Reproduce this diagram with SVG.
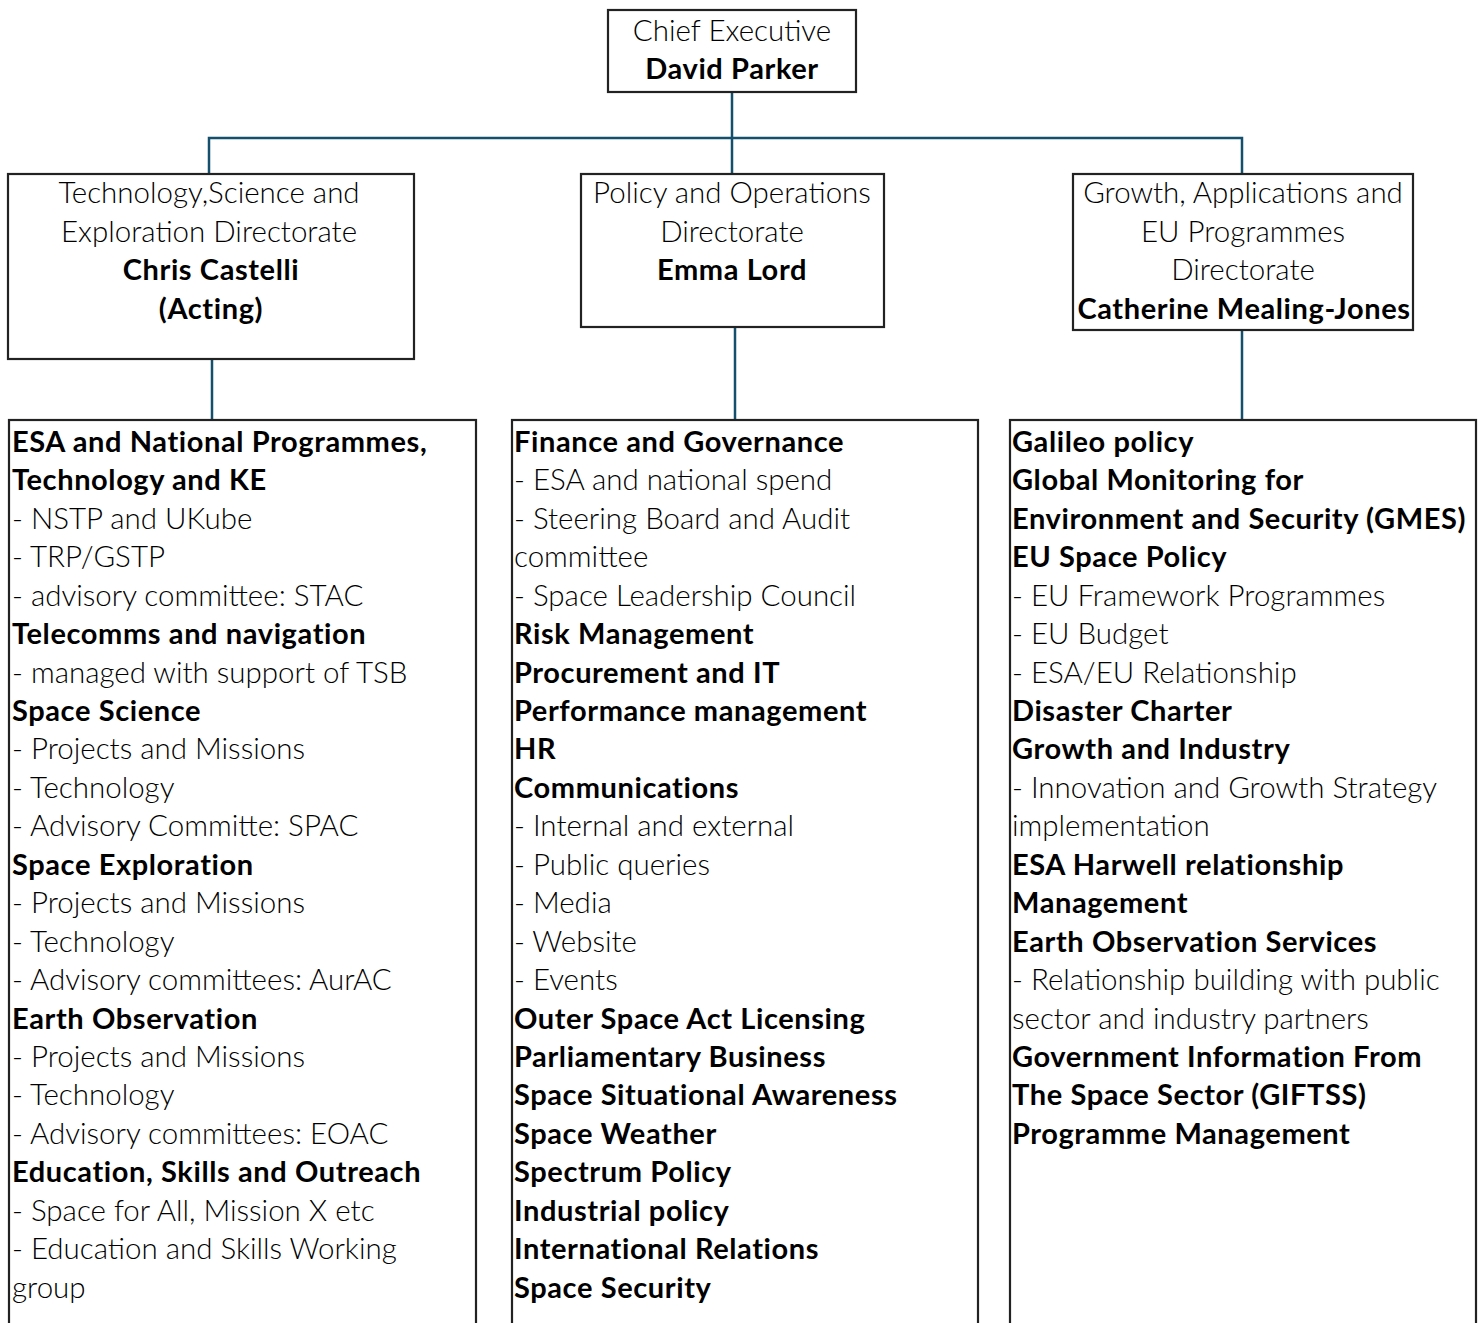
<svg xmlns="http://www.w3.org/2000/svg" width="1482" height="1323" viewBox="0 0 1482 1323">
<style>
text{font-family:Lato,"Open Sans","Liberation Sans",sans-serif;fill:#000}
.r{font-weight:300;font-size:29.5px}
.b{font-weight:700;font-size:29px;letter-spacing:0.6px}
.c{text-anchor:middle}
.box{fill:#fff;stroke:#222;stroke-width:2.2}
.con{stroke:#14506e;stroke-width:2.5;fill:none}
</style>
<rect width="1482" height="1323" fill="#fff"/>
<g id="connectors">
<path class="con" d="M732,92V138M209,174V138H1242V174M732,138V174"/>
<path class="con" d="M212,359V420M735,327V420M1242,330V420"/>
</g>
<g id="chief">
<rect class="box" x="608" y="10" width="248" height="82"/>
<text class="r c" x="732" y="41">Chief Executive</text>
<text class="b c" x="732" y="79">David Parker</text>
</g>
<g id="tse">
<rect class="box" x="8" y="174" width="406" height="185"/>
<text class="r c" x="209" y="203">Technology,Science and</text>
<text class="r c" x="209" y="242">Exploration Directorate</text>
<text class="b c" x="211" y="280">Chris Castelli</text>
<text class="b c" x="211" y="319">(Acting)</text>
</g>
<g id="po">
<rect class="box" x="581" y="174" width="303" height="153"/>
<text class="r c" x="732" y="203">Policy and Operations</text>
<text class="r c" x="732" y="242">Directorate</text>
<text class="b c" x="732" y="280">Emma Lord</text>
</g>
<g id="gae">
<rect class="box" x="1073" y="174" width="340" height="156"/>
<text class="r c" x="1243" y="203">Growth, Applications and</text>
<text class="r c" x="1243" y="242">EU Programmes</text>
<text class="r c" x="1243" y="280">Directorate</text>
<text class="b c" x="1244" y="319">Catherine Mealing-Jones</text>
</g>
<g id="tse-list">
<rect class="box" x="9" y="420" width="467" height="920"/>
<text class="b" x="12" y="452">ESA and National Programmes,</text>
<text class="b" x="12" y="490.4">Technology and KE</text>
<text class="r" x="12" y="528.9">- NSTP and UKube</text>
<text class="r" x="12" y="567.3">- TRP/GSTP</text>
<text class="r" x="12" y="605.7">- advisory committee: STAC</text>
<text class="b" x="12" y="644.2">Telecomms and navigation</text>
<text class="r" x="12" y="682.6">- managed with support of TSB</text>
<text class="b" x="12" y="721">Space Science</text>
<text class="r" x="12" y="759.4">- Projects and Missions</text>
<text class="r" x="12" y="797.9">- Technology</text>
<text class="r" x="12" y="836.3">- Advisory Committe: SPAC</text>
<text class="b" x="12" y="874.7">Space Exploration</text>
<text class="r" x="12" y="913.2">- Projects and Missions</text>
<text class="r" x="12" y="951.6">- Technology</text>
<text class="r" x="12" y="990">- Advisory committees: AurAC</text>
<text class="b" x="12" y="1028.5">Earth Observation</text>
<text class="r" x="12" y="1066.9">- Projects and Missions</text>
<text class="r" x="12" y="1105.3">- Technology</text>
<text class="r" x="12" y="1143.7">- Advisory committees: EOAC</text>
<text class="b" x="12" y="1182.2">Education, Skills and Outreach</text>
<text class="r" x="12" y="1220.6">- Space for All, Mission X etc</text>
<text class="r" x="12" y="1259">- Education and Skills Working</text>
<text class="r" x="12" y="1297.5">group</text>
</g>
<g id="po-list">
<rect class="box" x="512" y="420" width="466" height="920"/>
<text class="b" x="514" y="452">Finance and Governance</text>
<text class="r" x="514" y="490.4">- ESA and national spend</text>
<text class="r" x="514" y="528.9">- Steering Board and Audit</text>
<text class="r" x="514" y="567.3">committee</text>
<text class="r" x="514" y="605.7">- Space Leadership Council</text>
<text class="b" x="514" y="644.2">Risk Management</text>
<text class="b" x="514" y="682.6">Procurement and IT</text>
<text class="b" x="514" y="721">Performance management</text>
<text class="b" x="514" y="759.4">HR</text>
<text class="b" x="514" y="797.9">Communications</text>
<text class="r" x="514" y="836.3">- Internal and external</text>
<text class="r" x="514" y="874.7">- Public queries</text>
<text class="r" x="514" y="913.2">- Media</text>
<text class="r" x="514" y="951.6">- Website</text>
<text class="r" x="514" y="990">- Events</text>
<text class="b" x="514" y="1028.5">Outer Space Act Licensing</text>
<text class="b" x="514" y="1066.9">Parliamentary Business</text>
<text class="b" x="514" y="1105.3">Space Situational Awareness</text>
<text class="b" x="514" y="1143.7">Space Weather</text>
<text class="b" x="514" y="1182.2">Spectrum Policy</text>
<text class="b" x="514" y="1220.6">Industrial policy</text>
<text class="b" x="514" y="1259">International Relations</text>
<text class="b" x="514" y="1297.5">Space Security</text>
</g>
<g id="gae-list">
<rect class="box" x="1010" y="420" width="466" height="920"/>
<text class="b" x="1012" y="452">Galileo policy</text>
<text class="b" x="1012" y="490.4">Global Monitoring for</text>
<text class="b" x="1012" y="528.9">Environment and Security (GMES)</text>
<text class="b" x="1012" y="567.3">EU Space Policy</text>
<text class="r" x="1012" y="605.7">- EU Framework Programmes</text>
<text class="r" x="1012" y="644.2">- EU Budget</text>
<text class="r" x="1012" y="682.6">- ESA/EU Relationship</text>
<text class="b" x="1012" y="721">Disaster Charter</text>
<text class="b" x="1012" y="759.4">Growth and Industry</text>
<text class="r" x="1012" y="797.9">- Innovation and Growth Strategy</text>
<text class="r" x="1012" y="836.3">implementation</text>
<text class="b" x="1012" y="874.7">ESA Harwell relationship</text>
<text class="b" x="1012" y="913.2">Management</text>
<text class="b" x="1012" y="951.6">Earth Observation Services</text>
<text class="r" x="1012" y="990">- Relationship building with public</text>
<text class="r" x="1012" y="1028.5">sector and industry partners</text>
<text class="b" x="1012" y="1066.9">Government Information From</text>
<text class="b" x="1012" y="1105.3">The Space Sector (GIFTSS)</text>
<text class="b" x="1012" y="1143.7">Programme Management</text>
</g>
</svg>
